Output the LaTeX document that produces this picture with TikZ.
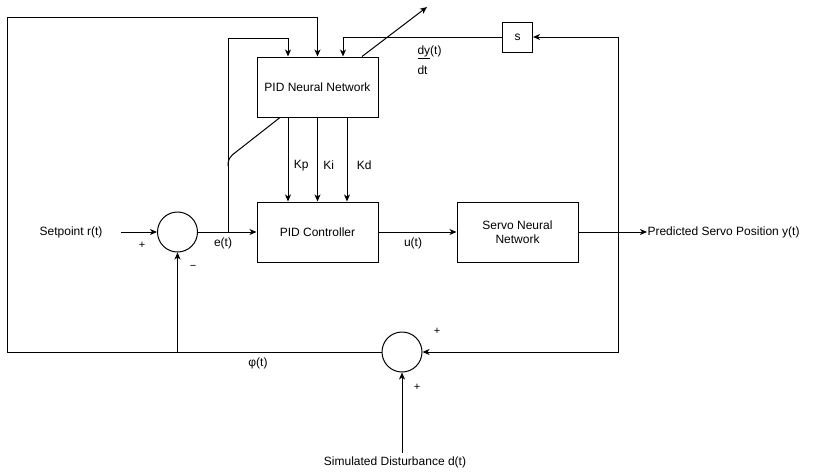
\documentclass[tikz,border=0pt]{standalone}
\usepackage{fontspec}
\setmainfont{Liberation Sans}
\usetikzlibrary{arrows.meta}

\begin{document}
\begin{tikzpicture}[x=1pt, y=-1pt, line width=1pt,
    font=\fontsize{12}{14}\selectfont,
    >={Stealth[length=7pt, width=6pt, inset=2pt]},
    block/.style={draw, minimum width=121pt, minimum height=60pt, inner sep=0pt},
    sumnode/.style={draw, circle, minimum size=40pt, inner sep=0pt},
    sign/.style={font=\fontsize{11}{12}\selectfont, inner sep=0pt}]
    \useasboundingbox (0,0) rectangle (818,474);
    % Blocks
    \node[block] (pidnn) at (317.5,87) {PID Neural Network};
    \node[block] (pid) at (317.5,232) {PID Controller};
    \node[block, align=center] (servo) at (517.5,232) {Servo Neural\\Network};
    \node[draw, minimum size=30pt, inner sep=0pt] (deriv) at (517.5,37) {s};
    % Summing junctions
    \node[sumnode] (sum) at (177.5,232) {};
    \node[sumnode] (dist) at (402,352) {};
    % Texts
    \node (setpt) at (71,232) {Setpoint r(t)};
    \node[anchor=west, inner sep=0pt] (out) at (647,232) {Predicted Servo Position y(t)};
    \node (dtext) at (395,462) {Simulated Disturbance d(t)};
    \node (elabel) at (223,243) {e(t)};
    \node (ulabel) at (413,243) {u(t)};
    \node (philabel) at (258,363) {φ(t)};
    \node[anchor=west, align=left, font=\fontsize{12}{20}\selectfont, inner sep=0pt] (dydt) at (417,60) {\underline{dy}(t)\\dt};
    \node[sign] (plusr) at (142,245) {+};
    \node[sign] (minusfb) at (193,267) {−};
    \node[sign] (plusy) at (437,331) {+};
    \node[sign] (plusd) at (417,387) {+};
    % Taps
    \coordinate (etap) at (228,232);
    \coordinate (ytap) at (618,232);
    \coordinate (upd) at (427,7);
    % Forward path
    \draw[->] ([xshift=15pt]setpt.east) -- (sum.west);
    \draw[->] (sum.east) -- (pid.west);
    \draw[->] (pid.east) -- (servo.west);
    \draw[->] (servo.east) -- (out.west);
    % Gains
    \draw[->] ([xshift=-29.5pt]pidnn.south) -- ([xshift=-29.5pt]pid.north) node[midway, right=2pt, yshift=-6pt] {Kp};
    \draw[->] (pidnn.south) -- (pid.north) node[midway, right=2pt, yshift=-6pt] {Ki};
    \draw[->] ([xshift=29.5pt]pidnn.south) -- ([xshift=29.5pt]pid.north) node[midway, right=6pt, yshift=-6pt] {Kd};
    % Inputs of the PID network
    \draw[->] (etap) -- (228,38) -| ([xshift=-29.5pt]pidnn.north);
    \draw ([xshift=-37.5pt]pidnn.south) -- (236,152) .. controls (229,157) and (228,160) .. (228,166);
    \draw[->] (ytap) |- (deriv.east);
    \draw[->] (deriv.west) -| ([xshift=25.5pt]pidnn.north);
    \draw[->] ([xshift=44.5pt]pidnn.north) -- (upd);
    % Feedback with disturbance
    \draw[->] (ytap) -- (ytap |- dist) -- (dist.east);
    \draw[->] (dist |- dtext.north) -- (dist.south);
    \draw[->] (dist.west) -- (7,352) -- (7,17) -| (pidnn.north);
    \draw[->] (sum |- dist) -- (sum.south);
\end{tikzpicture}
\end{document}
